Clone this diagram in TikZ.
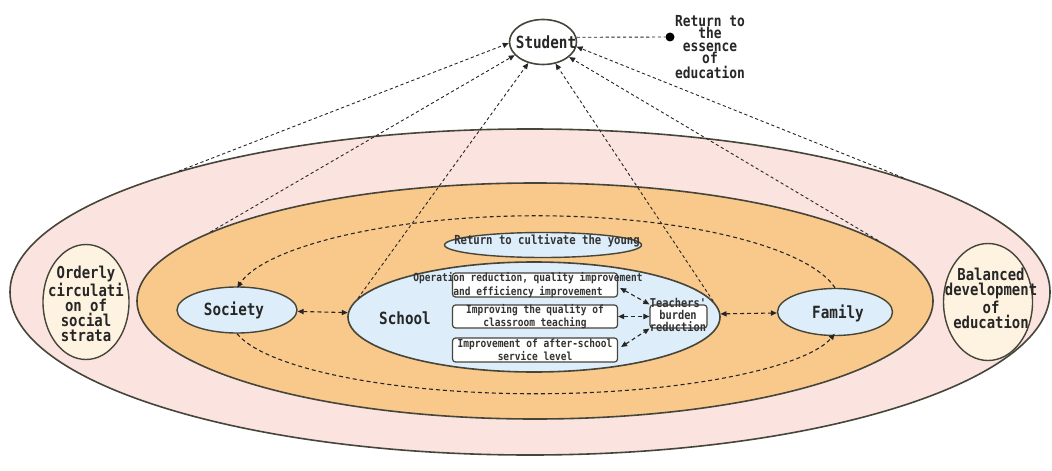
\documentclass[tikz,border=0pt]{standalone}
\usepackage{fontspec}
\newfontfamily\cf[FakeStretch=0.85]{DejaVu Sans Mono}
\usetikzlibrary{arrows.meta,shapes.geometric}
\definecolor{pinkf}{HTML}{FBE4E0}
\definecolor{orangef}{HTML}{F9C98B}
\definecolor{bluef}{HTML}{DDEEFA}
\definecolor{beigef}{HTML}{FEF2E1}
\definecolor{edgec}{HTML}{45453A}
\begin{document}
\begin{tikzpicture}[x=0.5pt,y=-0.5pt,
  ell/.style={ellipse, draw=edgec, line width=0.7pt, inner sep=0pt},
  boxn/.style={rectangle, rounded corners=1.5pt, draw=edgec, line width=0.6pt, fill=white, inner sep=0pt},
  big/.style={font=\cf\bfseries\fontsize{8.4}{8}\selectfont, text=black!85, inner sep=0pt, align=center},
  side/.style={font=\cf\bfseries\fontsize{8.2}{7.5}\selectfont, text=black!85, inner sep=0pt, align=center},
  ess/.style={font=\cf\bfseries\fontsize{7.6}{6.2}\selectfont, text=black!85, inner sep=0pt, align=center},
  small/.style={font=\cf\bfseries\fontsize{5.6}{4.7}\selectfont, text=black!80, inner sep=0pt, align=center},
  tch/.style={font=\cf\bfseries\fontsize{6.1}{4.2}\selectfont, text=black!80, inner sep=0pt, align=center},
  cult/.style={font=\cf\bfseries\fontsize{6.25}{6}\selectfont, text=black!80, inner sep=0pt, align=center},
  dl/.style={line width=0.55pt, dash pattern=on 2pt off 1.5pt, draw=black!85},
  sl/.style={line width=0.45pt, dash pattern=on 1.6pt off 1.3pt, draw=black!85},
  tip/.style={-{Triangle[length=3pt,width=2.6pt]}},
  tips/.style={{Triangle[length=3pt,width=2.6pt]}-{Triangle[length=3pt,width=2.6pt]}}
]
\useasboundingbox (0,0) rectangle (1052,470);

% layers
\node[ell, fill=pinkf, line width=0.8pt, minimum width=520pt, minimum height=163pt] (outer) at (530,292) {};
\node[ell, fill=orangef, line width=0.8pt, minimum width=398pt, minimum height=118pt] (orange) at (535,301) {};

% side ellipses
\node[ell, fill=beigef, minimum width=43pt, minimum height=57.5pt] (orderly) at (86,302) {};
\node[side] (orderlyT) at (86,304) {Orderly\\circulati\\on of\\social\\strata};
\node[ell, fill=beigef, minimum width=44.5pt, minimum height=58.5pt] (balanced) at (988,302) {};
\node[side] (balancedT) at (991,298) {Balanced\\development\\of\\education};

% inner nodes
\node[ell, fill=bluef, minimum width=98.5pt, minimum height=12.5pt] (cultivate) at (543,245) {};
\node[cult] (cultivateT) at (547,241) {Return to cultivate the young};

\node[ell, fill=bluef, line width=0.8pt, minimum width=186pt, minimum height=55pt] (school) at (534,317) {};
\node[big] (schoolT) at (405,318) {School};

\node[ell, fill=bluef, minimum width=60pt, minimum height=23pt] (society) at (237,310) {};
\node[big] (societyT) at (234,310) {Society};
\node[ell, fill=bluef, minimum width=57.5pt, minimum height=23.5pt] (family) at (835,312) {};
\node[big] (familyT) at (838,313) {Family};

\node[boxn, minimum width=82.5pt, minimum height=12pt] (box1) at (535,285) {};
\node[small] (box1T) at (528,285) {Operation reduction, quality improvement\\and efficiency improvement};
\node[boxn, minimum width=82.5pt, minimum height=11.5pt] (box2) at (535,316.5) {};
\node[small] (box2T) at (535,316.5) {Improving the quality of\\classroom teaching};
\node[boxn, minimum width=82.5pt, minimum height=12pt] (box3) at (535,350) {};
\node[small] (box3T) at (535,350) {Improvement of after-school\\service level};

\node[boxn, minimum width=28.5pt, minimum height=11.5pt] (teach) at (678.5,316.5) {};
\node[tch] (teachT) at (678,315) {Teachers'\\burden\\reduction};

% student
\node[ell, fill=white, line width=0.8pt, minimum width=33.5pt, minimum height=22.5pt] (student) at (543,42) {};
\node[big] (studentT) at (546,42) {Student};
\node[circle, fill=black, inner sep=0pt, minimum size=4.5pt] (dot) at (670,37) {};
\node[ess] (essT) at (710,47) {Return to\\the\\essence\\of\\education};

% dashed cycle between society and family
\draw[dl, tip] (family.north) arc[start angle=11, end angle=169, x radius=152.25pt, y radius=44.5pt];
\draw[dl, tip] (society.south) arc[start angle=-168.5, end angle=-11.5, x radius=152.5pt, y radius=37.5pt];

% horizontal links
\draw[dl, tips] (society) -- (school);
\draw[dl, tips] (school) -- (family);

% teachers links
\draw[dl, tips] (box1.east) ++(2,3) coordinate (b1e) -- (teach.north west);
\draw[dl, tips] (box2.east) -- (teach.west);
\draw[dl, tips] (box3.east) ++(3,-3) coordinate (b3e) -- (teach.south west);

% lines to student
\draw[sl, tip] (outer.161) -- (student.182);
\draw[sl, tip] (orange.168.6) -- (student.205);
\draw[sl, tip] (school.174.6) -- (student.235);
\draw[sl, tip] (school.5.5) -- (student.300);
\draw[sl, tip] (orange.10.7) -- (student.330);
\draw[sl, tip] (outer.17.9) -- (student.352);

% essence link
\draw[sl] (student.8) -- (dot);
\end{tikzpicture}
\end{document}
